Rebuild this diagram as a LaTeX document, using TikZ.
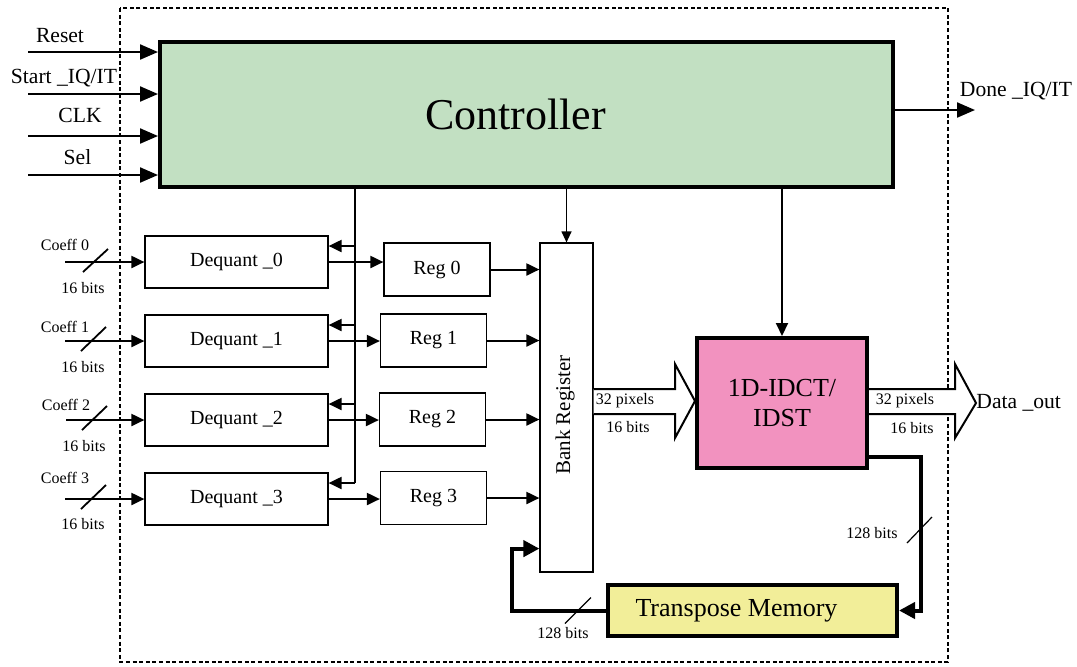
\documentclass[tikz,border=0pt]{standalone}
\usepackage{fontspec}
\setmainfont{Liberation Serif}
\usetikzlibrary{positioning,arrows.meta}

\definecolor{ctrlgreen}{HTML}{C2E0C2}
\definecolor{idctpink}{HTML}{F292BF}
\definecolor{memyellow}{HTML}{F2EE99}

\begin{document}
\begin{tikzpicture}[
	x=0.5pt, y=-0.5pt,
	ctrlnode/.style={rectangle, draw=black, fill=ctrlgreen, line width=2pt, minimum width=366.5pt, minimum height=72.5pt, font=\fontsize{22}{26}\selectfont},
	blocknode/.style={rectangle, draw=black, line width=0.6pt, inner sep=0pt, font=\fontsize{10}{12}\selectfont},
	deqnode/.style={blocknode, minimum width=91.5pt, minimum height=26pt},
	regnode/.style={blocknode, minimum width=53pt, minimum height=26.5pt},
	ctrlarrow/.style={line width=1.1pt, -{Triangle[length=9pt, width=7.5pt]}},
	thinsig/.style={line width=1pt, -{Triangle[length=6.5pt, width=6pt]}},
	feedback/.style={line width=2pt, -{Triangle[length=8pt, width=8pt]}},
	fatarrow/.style={line width=1pt, fill=white, line join=miter},
	busmark/.style={line width=0.6pt},
	bitlabel/.style={font=\fontsize{8}{10}\selectfont, inner sep=0pt},
	portlabel/.style={font=\fontsize{10.8}{13}\selectfont, inner sep=0pt},
	]
	\useasboundingbox (0,0) rectangle (1077,666);
	
	%Frame
	\draw[line width=0.9pt, dash pattern=on 2pt off 1.3pt] (120,8) rectangle (948,662);
	
	%Nodes
	\node[ctrlnode]		(ctrl)	at (526.5,114.5)	{Controller\kern11pt};
	\node[deqnode]		(deq0)	at (236.5,262)		{Dequant \_0};
	\node[deqnode]		(deq1)	at (236.5,341)		{Dequant \_1};
	\node[deqnode]		(deq2)	at (236.5,420)		{Dequant \_2};
	\node[deqnode]		(deq3)	at (236.5,499)		{Dequant \_3};
	\node[regnode]		(reg0)	at (437,269.5)		{Reg 0};
	\node[regnode]		(reg1)	at (433.5,340.5)	{Reg 1};
	\node[regnode]		(reg2)	at (432.5,419.5)	{Reg 2};
	\node[regnode]		(reg3)	at (433.5,498)		{Reg 3};
	\node[blocknode, minimum width=26.5pt, minimum height=164.5pt]	(bank)	at (566.5,407.5)	{};
	\node[rotate=90, inner sep=0pt, font=\fontsize{10.5}{12}\selectfont]	(banktext)	at (565,415)	{Bank Register};
	\node[rectangle, draw=black, fill=idctpink, line width=2pt, minimum width=85pt, minimum height=65pt, align=center, font=\fontsize{13}{15}\selectfont]	(idct)	at (782,403)	{1D-IDCT/\\IDST};
	\node[rectangle, draw=black, fill=memyellow, line width=2pt, minimum width=144.5pt, minimum height=25.5pt, font=\fontsize{13}{15}\selectfont]	(mem)	at (752.5,610.5)	{Transpose Memory\kern16pt};
	
	%Port labels
	\node[portlabel]	(rsttext)	at (60,36)		{Reset};
	\node[portlabel]	(starttext)	at (64,78)		{Start \_IQ/IT};
	\node[portlabel]	(clktext)	at (80,115)		{CLK};
	\node[portlabel]	(seltext)	at (77.5,157)	{Sel};
	\node[portlabel]	(donetext)	at (1016,91)	{Done \_IQ/IT};
	\node[portlabel, anchor=west]	(dout)	at (976,403)	{Data \_out};
	
	\node[bitlabel]	(cf0text)	at (65,245)		{Coeff 0};
	\node[bitlabel]	(cf1text)	at (65,327)		{Coeff 1};
	\node[bitlabel]	(cf2text)	at (66,405)		{Coeff 2};
	\node[bitlabel]	(cf3text)	at (65,478)		{Coeff 3};
	\node[bitlabel]	(bw0)	at (83,288)		{16 bits};
	\node[bitlabel]	(bw1)	at (83,367)		{16 bits};
	\node[bitlabel]	(bw2)	at (84,446)		{16 bits};
	\node[bitlabel]	(bw3)	at (83,524)		{16 bits};
	\node[bitlabel]	(fbright)	at (872,533)	{128 bits};
	\node[bitlabel]	(fbleft)	at (563,633)	{128 bits};
	
	%Controller ports
	\coordinate (rst) at (28,52);
	\coordinate (start) at (28,94);
	\coordinate (clk) at (28,136);
	\coordinate (sel) at (28,175);
	\coordinate (done) at (975,110);
	\draw[ctrlarrow] (rst) -- (rst -| ctrl.west);
	\draw[ctrlarrow] (start) -- (start -| ctrl.west);
	\draw[ctrlarrow] (clk) -- (clk -| ctrl.west);
	\draw[ctrlarrow] (sel) -- (sel -| ctrl.west);
	\draw[ctrlarrow] (ctrl.east |- done) -- (done);
	
	%Coefficient inputs
	\coordinate (cf0) at (65,262);
	\coordinate (cf1) at (65,341);
	\coordinate (cf2) at (66,420);
	\coordinate (cf3) at (65,499);
	\draw[thinsig] (cf0) -- (deq0.west);
	\draw[thinsig] (cf1) -- (deq1.west);
	\draw[thinsig] (cf2) -- (deq2.west);
	\draw[thinsig] (cf3) -- (deq3.west);
	\draw[line width=0.9pt] ([xshift=9pt,yshift=-5pt]cf0) -- ([xshift=21.5pt,yshift=6.5pt]cf0);
	\draw[line width=0.9pt] ([xshift=8pt,yshift=-5pt]cf1) -- ([xshift=20.5pt,yshift=7pt]cf1);
	\draw[line width=0.9pt] ([xshift=8pt,yshift=-5pt]cf2) -- ([xshift=20.5pt,yshift=7pt]cf2);
	\draw[line width=0.9pt] ([xshift=8pt,yshift=-5pt]cf3) -- ([xshift=20.5pt,yshift=7pt]cf3);
	
	%Control bus
	\coordinate (br0) at (355,246);
	\coordinate (br1) at (355,325);
	\coordinate (br2) at (355,404);
	\coordinate (br3) at (355,483);
	\draw[line width=1pt] (ctrl.south -| br3) -- (br3);
	\draw[thinsig] (br0) -- (br0 -| deq0.east);
	\draw[thinsig] (br1) -- (br1 -| deq1.east);
	\draw[thinsig] (br2) -- (br2 -| deq2.east);
	\draw[thinsig] (br3) -- (br3 -| deq3.east);
	
	%Data path
	\draw[thinsig] (deq0.east) -- (deq0.east -| reg0.west);
	\draw[thinsig] (deq1.east) -- (deq1.east -| reg1.west);
	\draw[thinsig] (deq2.east) -- (deq2.east -| reg2.west);
	\draw[thinsig] (deq3.east) -- (deq3.east -| reg3.west);
	\draw[thinsig] (reg0.east) -- (reg0.east -| bank.west);
	\draw[thinsig] (reg1.east) -- (reg1.east -| bank.west);
	\draw[thinsig] (reg2.east) -- (reg2.east -| bank.west);
	\draw[thinsig] (reg3.east) -- (reg3.east -| bank.west);
	\draw[line width=0.6pt, -{Triangle[length=5.5pt, width=5pt]}] (ctrl.south -| bank.north) -- (bank.north);
	\draw[thinsig] (ctrl.south -| idct.north) -- (idct.north);
	
	%Wide buses
	\draw[fatarrow] (bank.east |- 0,389) -- (675,389) -- (675,364) -- (idct.west |- 0,401) -- (675,438) -- (675,414) -- (bank.east |- 0,414);
	\draw[fatarrow] (idct.east |- 0,389) -- (955,389) -- (955,364) -- (dout.west) -- (955,438) -- (955,414) -- (idct.east |- 0,414);
	\node[bitlabel]	(pixin)		at (625,401)	{32 pixels};
	\node[bitlabel]	(bitsin)	at (628,427)	{16 bits};
	\node[bitlabel]	(pixout)	at (905,401)	{32 pixels};
	\node[bitlabel]	(bitsout)	at (912,428)	{16 bits};
	
	%Transpose loop
	\coordinate (loopr) at (921,530);
	\coordinate (loopl) at (512,580);
	\draw[feedback] ([yshift=6.5pt]idct.south east) -| (loopr) |- (mem.east);
	\draw[feedback] (mem.west) -| (loopl) |- ([yshift=12pt]bank.south west);
	\draw[busmark] ([xshift=-7pt,yshift=-6.5pt]loopr) -- ([xshift=5.5pt,yshift=6.5pt]loopr);
	\draw[busmark] ([xshift=-20.5pt,yshift=-6.5pt]mem.west) -- ([xshift=-7.5pt,yshift=6.5pt]mem.west);
	
\end{tikzpicture}
\end{document}
